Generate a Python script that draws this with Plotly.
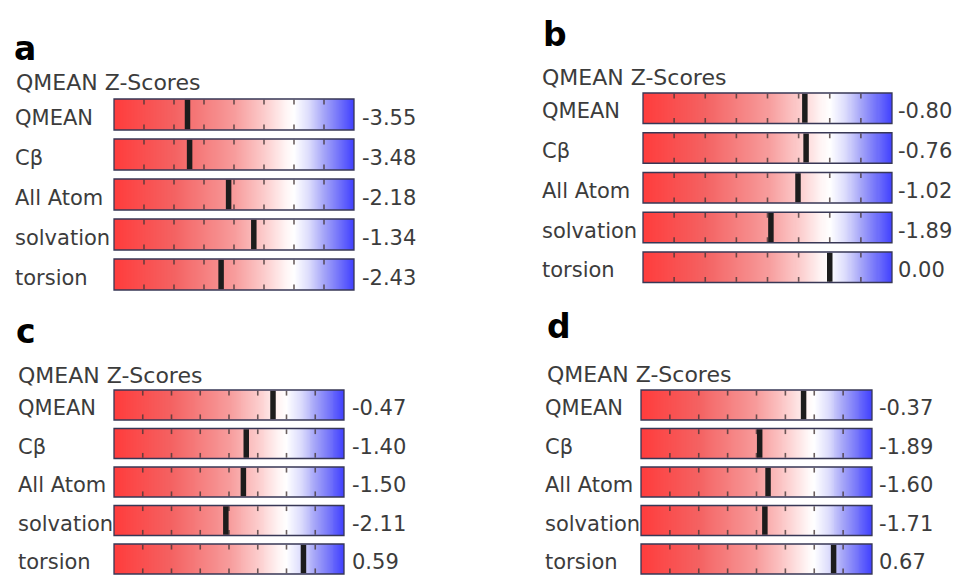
import numpy as np
import plotly.graph_objects as go

# ---------------- data ----------------
panel_letters = ["a", "b", "c", "d"]
chart_title = "QMEAN Z-Scores"
metrics = ["QMEAN", "Cβ", "All Atom", "solvation", "torsion"]
scores_a = [-3.55, -3.48, -2.18, -1.34, -2.43]
scores_b = [-0.80, -0.76, -1.02, -1.89, 0.00]
scores_c = [-0.47, -1.40, -1.50, -2.11, 0.59]
scores_d = [-0.37, -1.89, -1.60, -1.71, 0.67]
panel_scores = [scores_a, scores_b, scores_c, scores_d]
scale_min, scale_max = -6, 2
tick_values = [-5, -4, -3, -2, -1, 0, 1]

# ---------------- layout (pixels) ----------------
W, H = 958, 576
geom = [
    dict(left=114, right=354, top=99, pitch=40.0, h=31, lab_x=13, val_x=360,
         let_x=12, let_y=48, tit_x=14, tit_y=82),
    dict(left=643, right=892, top=93, pitch=39.75, h=30.5, lab_x=540, val_x=896,
         let_x=541, let_y=34, tit_x=540, tit_y=77),
    dict(left=114, right=344, top=390, pitch=38.5, h=30, lab_x=16, val_x=350,
         let_x=14, let_y=331, tit_x=16, tit_y=375),
    dict(left=641, right=872, top=390, pitch=38.5, h=30, lab_x=543, val_x=877,
         let_x=545, let_y=326, tit_x=545, tit_y=374),
]

FONT = "DejaVu Sans"
TXT = "#3c3c3c"
colorscale = [
    [0.0, "rgb(255,60,60)"],
    [0.25, "rgb(244,98,98)"],
    [0.5, "rgb(247,155,155)"],
    [0.625, "rgb(252,203,203)"],
    [0.72, "rgb(255,246,246)"],
    [0.75, "rgb(255,255,255)"],
    [0.8125, "rgb(220,220,252)"],
    [0.875, "rgb(165,165,248)"],
    [0.9375, "rgb(115,115,250)"],
    [1.0, "rgb(64,64,255)"],
]

fig = go.Figure()
shapes = []
annotations = []
nrow = len(metrics)

for k, scores in enumerate(panel_scores):
    g = geom[k]
    n = k + 1
    xname = "x" if n == 1 else f"x{n}"
    yname = "y" if n == 1 else f"y{n}"
    pitch, h = g["pitch"], g["h"]
    hh = h / (2 * pitch)
    pady = 2 / pitch
    unit_px = (g["right"] - g["left"]) / (scale_max - scale_min)
    padx = 2 / unit_px

    # gradient bars (heatmap with gap rows)
    xe = np.linspace(scale_min, scale_max, 241)
    xc = (xe[:-1] + xe[1:]) / 2
    yedges = []
    z = []
    for i in range(nrow):
        yedges += [i - hh, i + hh]
        z.append(list(xc))
        if i < nrow - 1:
            z.append([None] * len(xc))
    fig.add_trace(go.Heatmap(
        x=xe, y=yedges, z=z, zmin=scale_min, zmax=scale_max,
        colorscale=colorscale, showscale=False, hoverinfo="skip",
        xaxis=xname, yaxis=yname))

    # small tick marks inside each bar (top and bottom)
    off = 3.2 / pitch
    tx, ty = [], []
    for i in range(nrow):
        for t in tick_values:
            tx += [t, t]
            ty += [i - hh + off, i + hh - off]
    fig.add_trace(go.Scatter(
        x=tx, y=ty, mode="markers", hoverinfo="skip",
        marker=dict(symbol="line-ns", size=3.4,
                    line=dict(width=1.6, color="rgba(70,55,55,0.8)")),
        xaxis=xname, yaxis=yname))

    # score markers (line-ns marker length = 1.4 * size)
    fig.add_trace(go.Scatter(
        x=scores, y=list(range(nrow)), mode="markers", hoverinfo="skip",
        marker=dict(symbol="line-ns", size=(h - 1.5) / 1.4,
                    line=dict(width=5.5, color="#1c1c1c")),
        xaxis=xname, yaxis=yname))

    # borders
    for i in range(nrow):
        shapes.append(dict(type="rect", xref=xname, yref=yname,
                           x0=scale_min, x1=scale_max, y0=i - hh, y1=i + hh,
                           line=dict(color="rgb(55,55,85)", width=1.3),
                           fillcolor="rgba(0,0,0,0)", layer="above"))

    # row labels & values
    for i, (m, v) in enumerate(zip(metrics, scores)):
        annotations.append(dict(text=m, xref="paper", yref=yname,
                                x=g["lab_x"] / W, y=i, xanchor="left",
                                yanchor="middle", yshift=-3, showarrow=False,
                                font=dict(family=FONT, size=21, color=TXT)))
        annotations.append(dict(text=f"{v:.2f}", xref="paper", yref=yname,
                                x=g["val_x"] / W, y=i, xanchor="left",
                                yanchor="middle", yshift=-3, showarrow=False,
                                font=dict(family=FONT, size=21, color=TXT)))

    # panel letter and title
    annotations.append(dict(text=f"<b>{panel_letters[k]}</b>", xref="paper",
                            yref="paper", x=g["let_x"] / W,
                            y=1 - g["let_y"] / H, xanchor="left",
                            yanchor="middle", showarrow=False,
                            font=dict(family=FONT, size=33, color="#000000")))
    annotations.append(dict(text=chart_title, xref="paper", yref="paper",
                            x=g["tit_x"] / W, y=1 - g["tit_y"] / H,
                            xanchor="left", yanchor="middle", showarrow=False,
                            font=dict(family=FONT, size=22, color=TXT)))

    top_px = g["top"] - 2
    bot_px = min(g["top"] + (nrow - 1) * pitch + h + 2, H)
    fig.layout[("xaxis" if n == 1 else f"xaxis{n}")] = dict(
        domain=[(g["left"] - 2) / W, (g["right"] + 2) / W],
        range=[scale_min - padx, scale_max + padx],
        visible=False, fixedrange=True, anchor=yname)
    fig.layout[("yaxis" if n == 1 else f"yaxis{n}")] = dict(
        domain=[1 - bot_px / H, 1 - top_px / H],
        range=[nrow - 1 + hh + pady, -hh - pady],
        visible=False, fixedrange=True, anchor=xname)

fig.update_layout(
    width=W, height=H, margin=dict(l=0, r=0, t=0, b=0),
    paper_bgcolor="white", plot_bgcolor="white", showlegend=False,
    shapes=shapes, annotations=annotations,
)

fig.write_html("out.html", config={"displayModeBar": False})
